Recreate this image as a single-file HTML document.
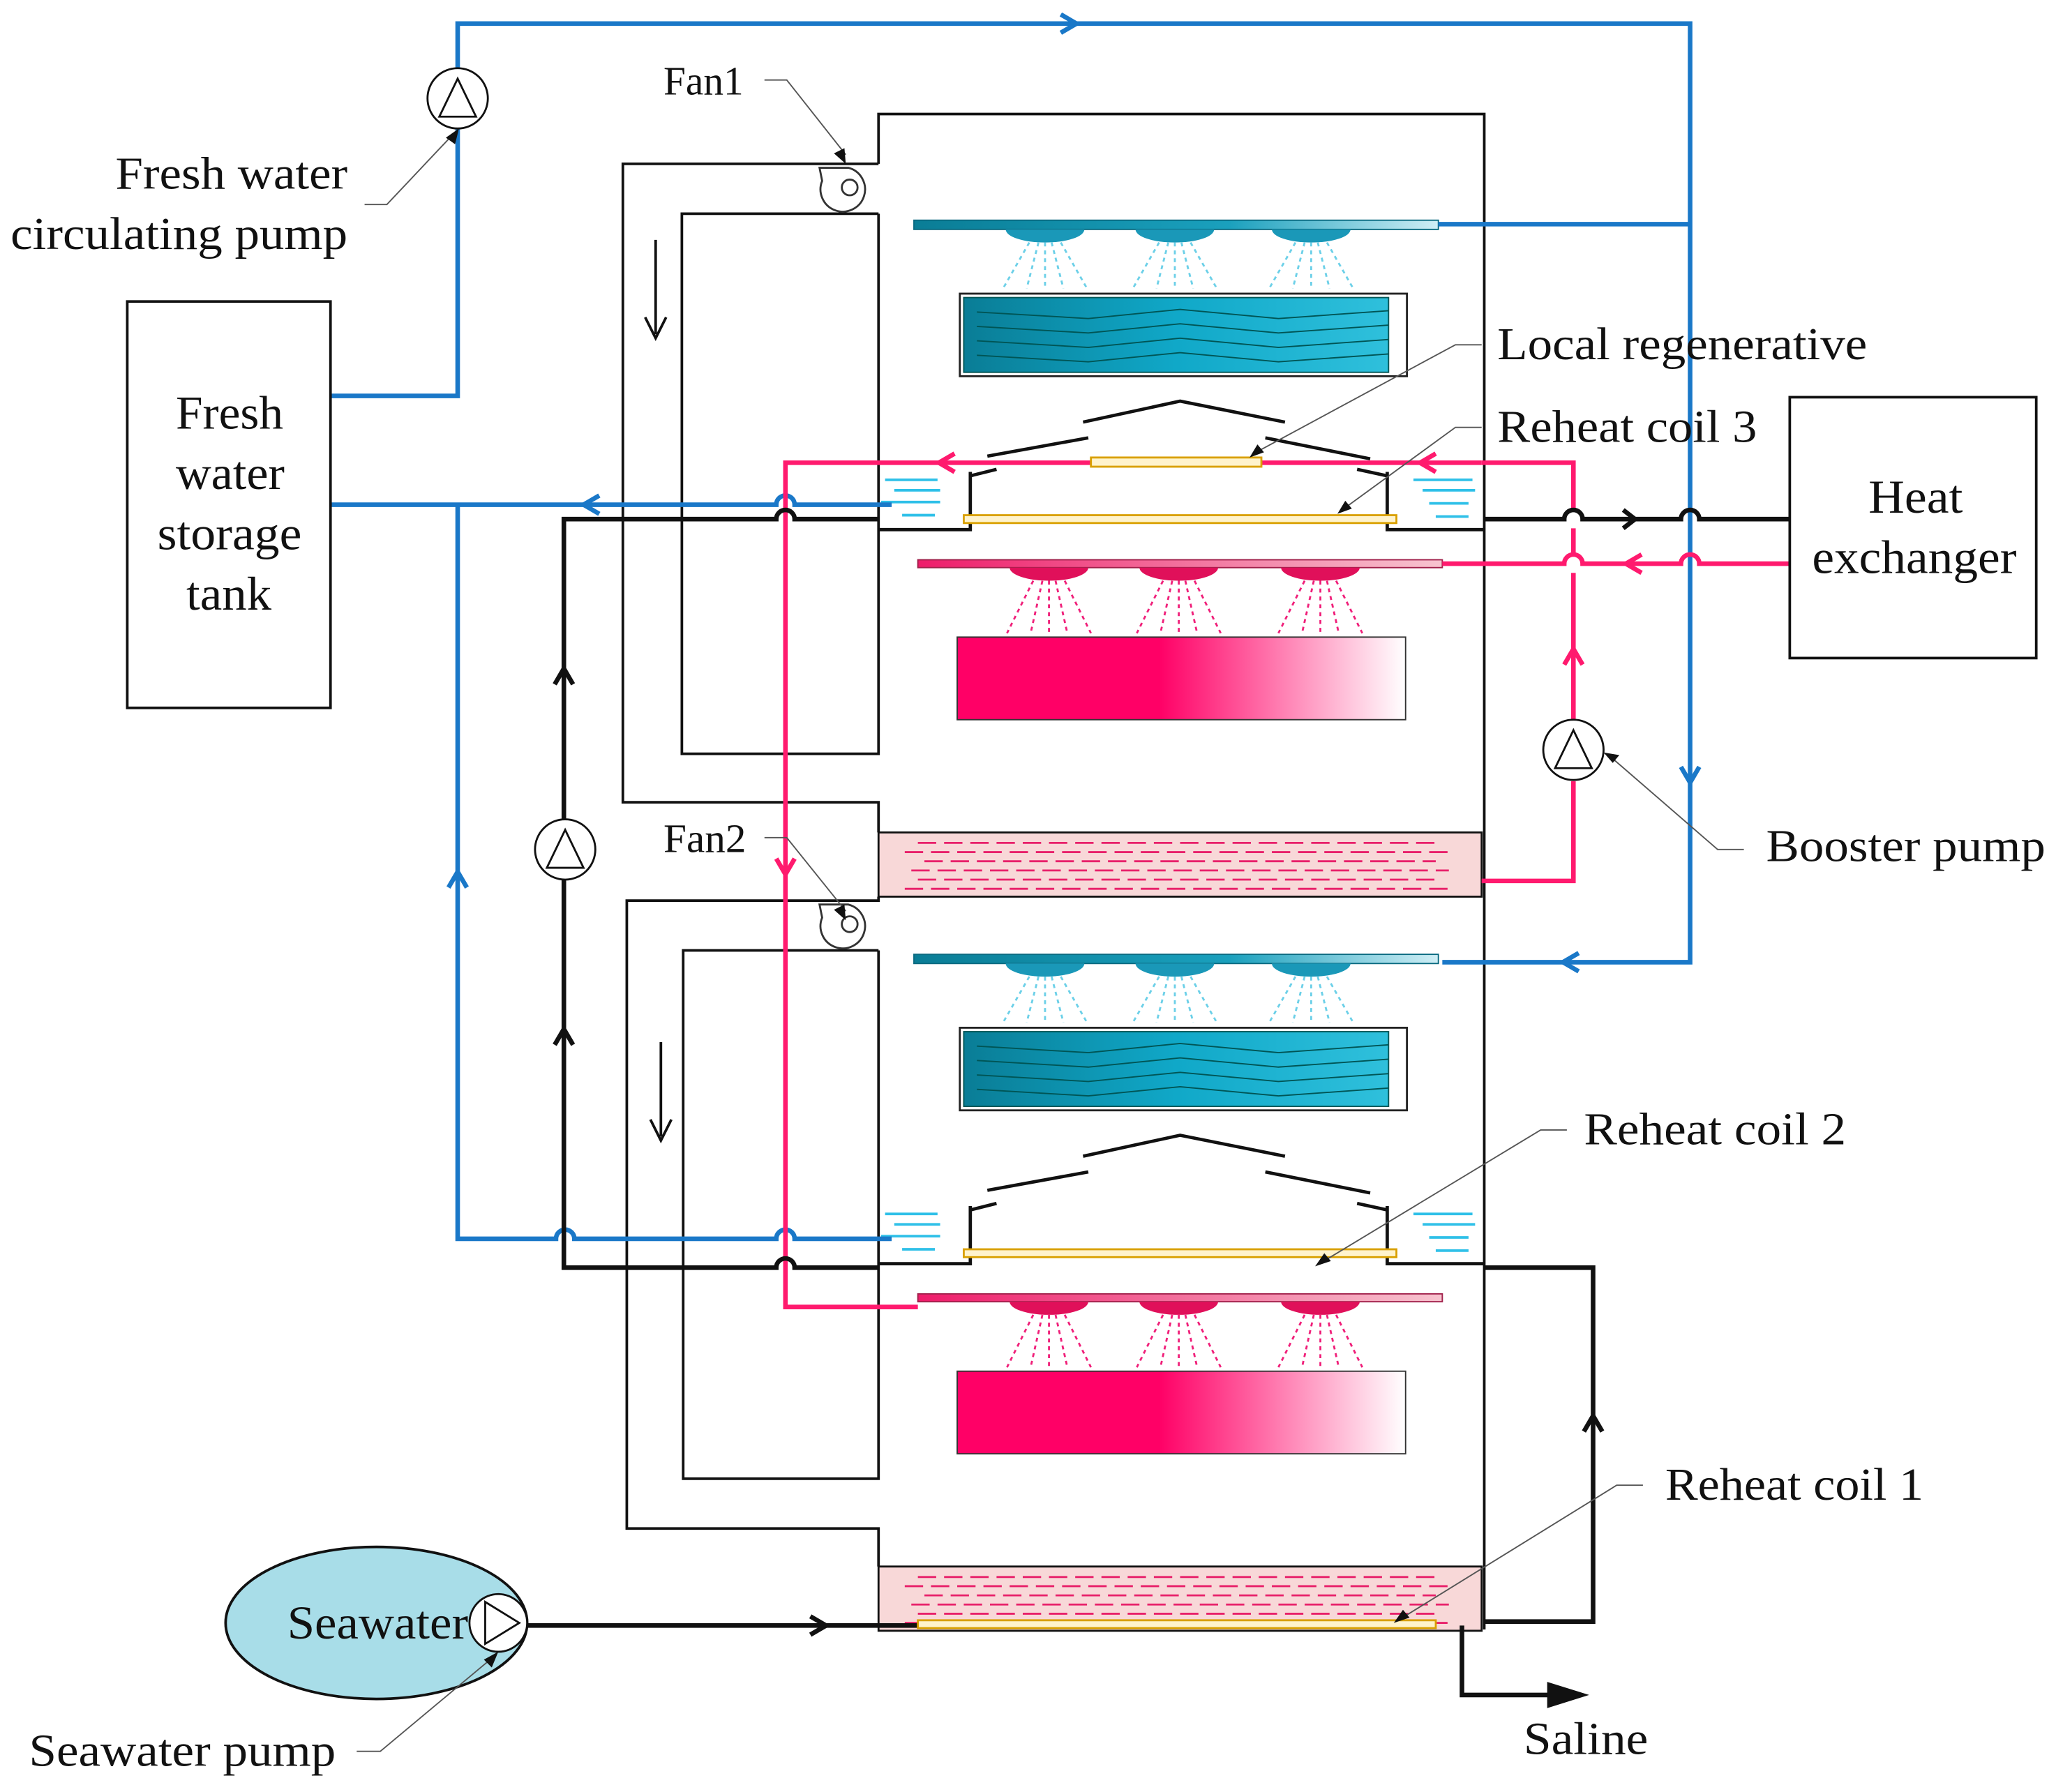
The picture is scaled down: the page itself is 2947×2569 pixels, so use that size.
<!DOCTYPE html>
<html><head><meta charset="utf-8"><style>
html,body{margin:0;padding:0;background:#fff}
svg{display:block}
text{font-family:"Liberation Serif",serif;fill:#111}
</style></head><body>
<svg width="2947" height="2569" viewBox="0 0 1568 1367" xmlns="http://www.w3.org/2000/svg">
<defs>
<linearGradient id="tg" x1="0" x2="1"><stop offset="0" stop-color="#0a7d96"/><stop offset="0.6" stop-color="#1aa0bd"/><stop offset="1" stop-color="#cfeef5"/></linearGradient>
<linearGradient id="pk" x1="0" x2="1"><stop offset="0" stop-color="#0a7d96"/><stop offset="0.5" stop-color="#10a8c8"/><stop offset="1" stop-color="#2fc0dc"/></linearGradient>
<linearGradient id="pg" x1="0" x2="1"><stop offset="0" stop-color="#ff0066"/><stop offset="0.45" stop-color="#ff0066"/><stop offset="1" stop-color="#fff"/></linearGradient>
<linearGradient id="pbar" x1="0" x2="1"><stop offset="0" stop-color="#ee1c6a"/><stop offset="1" stop-color="#f7c4cf"/></linearGradient>
<g id="stage">
 <rect x="697" y="168" width="400" height="7" fill="url(#tg)" stroke="#0a6a80" stroke-width="1"/>
 <g fill="#1a98b8"><path d="M767 175 a30 10 0 0 0 60 0z"/><path d="M866 175 a30 10 0 0 0 60 0z"/><path d="M970 175 a30 10 0 0 0 60 0z"/></g>
 <g stroke="#6cd0e8" stroke-width="1.5" stroke-dasharray="3,3">
  <path d="M785 185 L765 220 M792 185 L783 220 M797 185 L797 220 M802 185 L811 220 M809 185 L829 220"/>
  <path d="M884 185 L864 220 M891 185 L882 220 M896 185 L896 220 M901 185 L910 220 M908 185 L928 220"/>
  <path d="M988 185 L968 220 M995 185 L986 220 M1000 185 L1000 220 M1005 185 L1014 220 M1012 185 L1032 220"/>
 </g>
 <rect x="732" y="224" width="341" height="63" fill="#fff" stroke="#222" stroke-width="1.5"/>
 <rect x="735" y="227" width="324" height="57" fill="url(#pk)" stroke="#055" stroke-width="1"/>
 <g stroke="#055" stroke-width="1" fill="none">
  <path d="M745 238 L830 243 L900 236 L975 243 L1059 237"/>
  <path d="M745 249 L830 254 L900 247 L975 254 L1059 248"/>
  <path d="M745 260 L830 265 L900 258 L975 265 L1059 259"/>
  <path d="M745 271 L830 276 L900 269 L975 276 L1059 270"/>
 </g>
 <g stroke="#111" stroke-width="2.5" fill="none">
  <path d="M826 322 L900 306 L980 322"/>
  <path d="M753 348 L830 334"/><path d="M965 334 L1045 350"/>
  <path d="M740 363 L760 358"/><path d="M1035 358 L1058 363"/>
  <path d="M740 360 L740 404 L670 404"/>
  <path d="M1058 360 L1058 404 L1132 404"/>
 </g>
 <g stroke="#2fc0e8" stroke-width="2"><path d="M675 366h40M682 374h35M672 383h45M688 393h25M1078 366h45M1085 374h40M1090 384h30M1095 394h25"/></g>
 <rect x="735" y="393" width="330" height="6" fill="#fff3cc" stroke="#d9a000" stroke-width="1.5"/>
 <rect x="700" y="427" width="400" height="6" fill="url(#pbar)" stroke="#a0204a" stroke-width="1"/>
 <g fill="#e0105a"><path d="M770 433 a30 10 0 0 0 60 0z"/><path d="M869 433 a30 10 0 0 0 60 0z"/><path d="M977 433 a30 10 0 0 0 60 0z"/></g>
 <g stroke="#f0207a" stroke-width="1.5" stroke-dasharray="3,3">
  <path d="M788 443 L768 483 M795 443 L786 483 M800 443 L800 483 M805 443 L814 483 M812 443 L832 483"/>
  <path d="M887 443 L867 483 M894 443 L885 483 M899 443 L899 483 M904 443 L913 483 M911 443 L931 483"/>
  <path d="M995 443 L975 483 M1002 443 L993 483 M1007 443 L1007 483 M1012 443 L1021 483 M1019 443 L1039 483"/>
 </g>
 <rect x="730" y="486" width="342" height="63" fill="url(#pg)" stroke="#333" stroke-width="1"/>
</g>
<g id="basin">
 <rect x="670" y="635" width="460" height="49" fill="#f8d8d8" stroke="#111" stroke-width="1.5"/>
 <g stroke="#e8206a" stroke-width="1.5" stroke-dasharray="14,6">
  <path d="M700 643h400M690 650h420M705 657h390M695 664h410M700 671h400M690 678h420"/>
 </g>
</g>
</defs>

<g stroke="#111" stroke-width="2" fill="none">
 <path d="M670 125 L670 87 L1132 87 L1132 1243"/>
 <path d="M670 125 L475 125 L475 612 L670 612 L670 635"/>
 <path d="M670 163 L520 163 L520 575 L670 575 L670 163"/>
 <path d="M670 684 L670 687 L478 687 L478 1166 L670 1166 L670 1195"/>
 <path d="M670 725 L521 725 L521 1128 L670 1128 L670 725"/>
 <path d="M500 183 V255 M492 242 L500 258 L508 242"/>
 <path d="M504 795 V867 M496 854 L504 870 L512 854"/>
</g>
<use href="#stage"/>
<use href="#stage" transform="translate(0,560)"/>
<use href="#basin"/>
<use href="#basin" transform="translate(0,560)"/>
<g fill="#fff" stroke="#333" stroke-width="1.5">
 <path d="M625 128 h22 a17 17 0 1 1 -20 10 z"/><circle cx="648" cy="143" r="6"/>
 <path d="M625 690 h22 a17 17 0 1 1 -20 10 z"/><circle cx="648" cy="705" r="6"/>
</g>
<g stroke="#1a78c8" stroke-width="3.5" fill="none">
 <path d="M252 302 H349 V18 H1289 V734 H1100"/>
 <path d="M1289 171 H1097"/>
 <path d="M252 385 H592 a7 7 0 0 1 14 0 H680"/>
 <path d="M349 385 V945 H424 a7 7 0 0 1 14 0 H592 a7 7 0 0 1 14 0 H680"/>
 <path d="M809 11 L821 18 L809 25 M1282 585 L1289 597 L1296 585 M457 378 L445 385 L457 392 M342 677 L349 665 L356 677 M1204 727 L1192 734 L1204 741"/>
</g>
<g stroke="#ff1a6e" stroke-width="3.5" fill="none">
 <path d="M1130 353 H599 V997 H700"/>
 <path d="M1365 430 H1296 a7 7 0 0 0 -14 0 H1207 a7 7 0 0 0 -14 0 H1100"/>
 <path d="M1130 672 H1200 V596 M1200 549 V437 M1200 423 V403 M1200 389 V353 H1130"/>
 <path d="M728 346 L716 353 L728 360 M1095 346 L1083 353 L1095 360 M1252 423 L1240 430 L1252 437 M1193 507 L1200 495 L1207 507 M592 655 L599 667 L606 655"/>
</g>
<rect x="832" y="349" width="130" height="7" fill="#fff3cc" stroke="#d9a000" stroke-width="1.5"/>
<g stroke="#111" stroke-width="3.5" fill="none">
 <path d="M670 396 H606 a7 7 0 0 0 -14 0 H430 V625 M430 671 V967 H592 a7 7 0 0 1 14 0 H670"/>
 <path d="M1132 396 H1193 a7 7 0 0 1 14 0 H1282 a7 7 0 0 1 14 0 H1365"/>
 <path d="M1132 967 H1215 V1237 H1132"/>
 <path d="M400 1240 H700"/>
 <path d="M1115 1240 V1293 H1185"/>
 <path d="M1238 389 L1247 396 L1238 403 M423 522 L430 510 L437 522 M423 797 L430 785 L437 797 M1208 1092 L1215 1080 L1222 1092 M618 1233 L630 1240 L618 1247"/>
</g>
<path d="M1180 1283 L1212 1293 L1180 1303z" fill="#111"/>
<rect x="700" y="1236" width="395" height="6" fill="#fff3cc" stroke="#d9a000" stroke-width="1.5"/>
<g fill="#fff" stroke="#111" stroke-width="1.5">
 <circle cx="349" cy="75" r="23"/><path d="M335 89 L349 60 L363 89z"/>
 <circle cx="431" cy="648" r="23"/><path d="M417 662 L431 633 L445 662z"/>
 <circle cx="1200" cy="572" r="23"/><path d="M1186 586 L1200 557 L1214 586z"/>
</g>
<rect x="97" y="230" width="155" height="310" fill="#fff" stroke="#111" stroke-width="2"/>
<rect x="1365" y="303" width="188" height="199" fill="#fff" stroke="#111" stroke-width="2"/>
<ellipse cx="287" cy="1238" rx="115" ry="58" fill="#a8dde8" stroke="#111" stroke-width="2"/>
<circle cx="380" cy="1238" r="22" fill="#fff" stroke="#111" stroke-width="1.5"/>
<path d="M370 1222 L396 1238 L370 1254z" fill="#fff" stroke="#111" stroke-width="1.5"/>
<g stroke="#555" stroke-width="1" fill="none">
 <path d="M583 61 H600 L645 118"/><path d="M583 639 H600 L645 695"/>
 <path d="M278 156 H295 L345 103"/>
 <path d="M1130 263 H1110 L958 345"/><path d="M1130 326 H1110 L1025 388"/>
 <path d="M1330 648 H1310 L1228 577"/>
 <path d="M1195 862 H1175 L1008 963"/>
 <path d="M1253 1133 H1233 L1068 1235"/>
 <path d="M272 1336 H290 L375 1265"/>
</g>
<g fill="#111">
 <path d="M645 125 l-9 -8 l8 -4z"/><path d="M645 702 l-9 -8 l8 -4z"/>
 <path d="M350 98 l-3 12 l-7 -5z"/>
 <path d="M953 349 l6 -10 l5 6z"/><path d="M1020 392 l6 -10 l5 6z"/>
 <path d="M1223 574 l12 2 l-5 6z"/><path d="M1003 966 l7 -10 l5 6z"/>
 <path d="M1063 1238 l7 -10 l5 6z"/><path d="M380 1260 l-5 12 l-6 -6z"/>
</g>
<g font-size="35" lengthAdjust="spacingAndGlyphs">
 <text x="506" y="72" font-size="31" textLength="61" lengthAdjust="spacingAndGlyphs">Fan1</text>
 <text x="506" y="650" font-size="31" textLength="63" lengthAdjust="spacingAndGlyphs">Fan2</text>
 <text x="88" y="144" textLength="177" lengthAdjust="spacingAndGlyphs">Fresh water</text>
 <text x="8" y="190" textLength="257" lengthAdjust="spacingAndGlyphs">circulating pump</text>
 <text x="134" y="327" font-size="36" textLength="82" lengthAdjust="spacingAndGlyphs">Fresh</text>
 <text x="134" y="373" font-size="36" textLength="83" lengthAdjust="spacingAndGlyphs">water</text>
 <text x="120" y="419" font-size="36" textLength="110" lengthAdjust="spacingAndGlyphs">storage</text>
 <text x="142" y="465" font-size="36" textLength="65" lengthAdjust="spacingAndGlyphs">tank</text>
 <text x="1142" y="274" textLength="282" lengthAdjust="spacingAndGlyphs">Local regenerative</text>
 <text x="1142" y="337" textLength="198" lengthAdjust="spacingAndGlyphs">Reheat coil 3</text>
 <text x="1425" y="391" font-size="36" textLength="72" lengthAdjust="spacingAndGlyphs">Heat</text>
 <text x="1382" y="437" font-size="36" textLength="156" lengthAdjust="spacingAndGlyphs">exchanger</text>
 <text x="1347" y="657" textLength="213" lengthAdjust="spacingAndGlyphs">Booster pump</text>
 <text x="1208" y="873" textLength="200" lengthAdjust="spacingAndGlyphs">Reheat coil 2</text>
 <text x="1270" y="1144" textLength="197" lengthAdjust="spacingAndGlyphs">Reheat coil 1</text>
 <text x="219" y="1250" font-size="36" textLength="138" lengthAdjust="spacingAndGlyphs">Seawater</text>
 <text x="22" y="1347" textLength="234" lengthAdjust="spacingAndGlyphs">Seawater pump</text>
 <text x="1162" y="1338" textLength="95" lengthAdjust="spacingAndGlyphs">Saline</text>
</g>
</svg>
</body></html>
